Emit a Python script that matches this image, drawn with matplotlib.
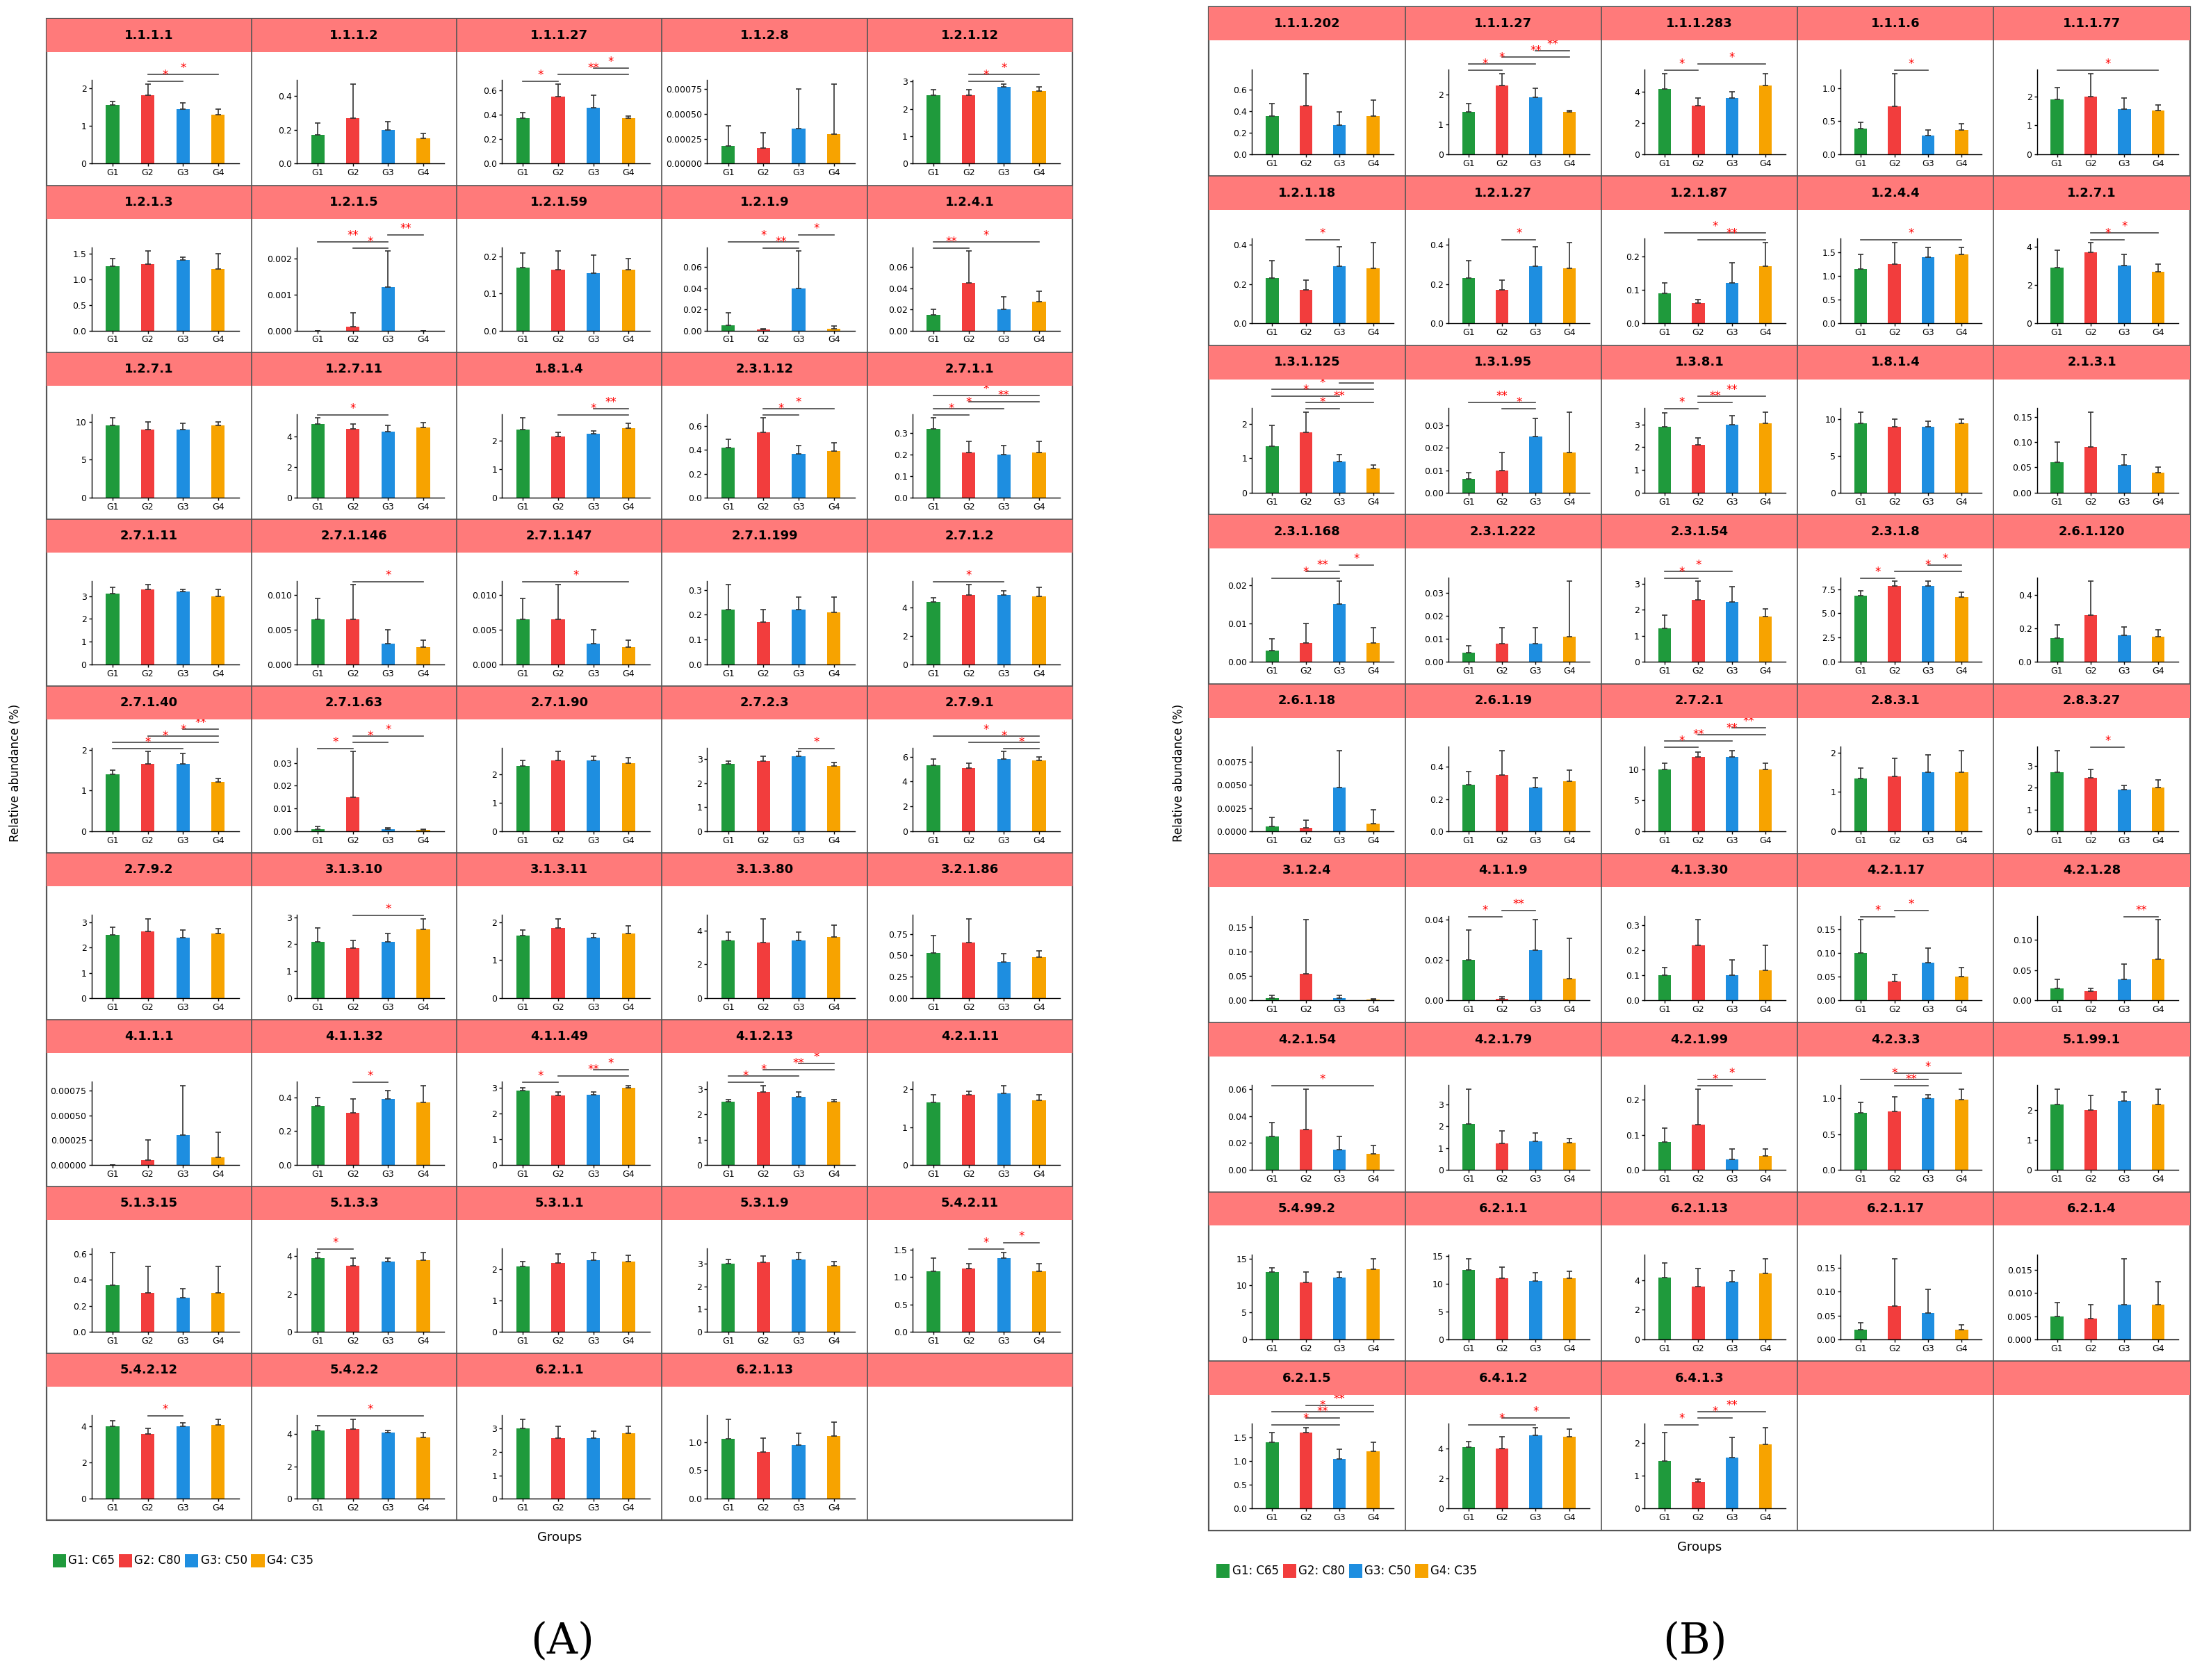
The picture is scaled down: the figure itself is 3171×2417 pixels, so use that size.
import matplotlib.pyplot as plt
from matplotlib.patches import Rectangle

groups = ['G1', 'G2', 'G3', 'G4']
colors = ['#1f9a3c', '#f23d3d', '#1e8ee0', '#f7a300']
legend_labels = ['G1: C65', 'G2: C80', 'G3: C50', 'G4: C35']

# name, means, errors, significance pairs
panel_a = [
    ('1.1.1.1', [1.55, 1.8, 1.45, 1.3], [.1, .3, .15, .15], [(1, 2, '*'), (1, 3, '*')]),
    ('1.1.1.2', [.17, .27, .2, .15], [.07, .2, .05, .03], []),
    ('1.1.1.27', [.37, .55, .46, .37], [.05, .1, .1, .02], [(0, 1, '*'), (1, 3, '**'), (2, 3, '*')]),
    ('1.1.2.8', [.00018, .00016, .00035, .0003], [.0002, .00015, .0004, .0005], []),
    ('1.2.1.12', [2.5, 2.5, 2.8, 2.65], [.2, .2, .1, .15], [(1, 2, '*'), (1, 3, '*')]),
    ('1.2.1.3', [1.25, 1.3, 1.38, 1.2], [.15, .25, .05, .3], []),
    ('1.2.1.5', [0, .0001, .0012, 0], [0, .0004, .001, 0], [(1, 2, '*'), (0, 2, '**'), (2, 3, '**')]),
    ('1.2.1.59', [.17, .165, .155, .165], [.04, .05, .05, .03], []),
    ('1.2.1.9', [.005, .001, .04, .002], [.012, .001, .035, .002], [(1, 2, '**'), (0, 2, '*'), (2, 3, '*')]),
    ('1.2.4.1', [.015, .045, .02, .027], [.005, .03, .012, .01], [(0, 1, '**'), (0, 3, '*')]),
    ('1.2.7.1', [9.5, 9, 9, 9.5], [1, 1, .8, .5], []),
    ('1.2.7.11', [4.8, 4.5, 4.3, 4.6], [.4, .3, .4, .3], [(0, 2, '*')]),
    ('1.8.1.4', [2.4, 2.15, 2.25, 2.45], [.4, .15, .1, .15], [(1, 3, '*'), (2, 3, '**')]),
    ('2.3.1.12', [.42, .55, .37, .39], [.07, .12, .07, .07], [(1, 2, '*'), (1, 3, '*')]),
    ('2.7.1.1', [.32, .21, .2, .21], [.05, .05, .04, .05], [(0, 1, '*'), (0, 2, '*'), (1, 3, '**'), (0, 3, '*')]),
    ('2.7.1.11', [3.1, 3.3, 3.2, 3.0], [.3, .2, .1, .3], []),
    ('2.7.1.146', [.0065, .0065, .003, .0025], [.003, .005, .002, .001], [(1, 3, '*')]),
    ('2.7.1.147', [.0065, .0065, .003, .0025], [.003, .005, .002, .001], [(0, 3, '*')]),
    ('2.7.1.199', [.22, .17, .22, .21], [.1, .05, .05, .06], []),
    ('2.7.1.2', [4.4, 4.9, 4.9, 4.8], [.3, .7, .3, .6], [(0, 2, '*')]),
    ('2.7.1.40', [1.4, 1.65, 1.65, 1.2], [.1, .3, .25, .1], [(0, 2, '*'), (0, 3, '*'), (1, 3, '*'), (2, 3, '**')]),
    ('2.7.1.63', [.001, .015, .001, .0005], [.001, .02, .0005, .0005], [(0, 1, '*'), (1, 2, '*'), (1, 3, '*')]),
    ('2.7.1.90', [2.3, 2.5, 2.5, 2.4], [.2, .3, .15, .2], []),
    ('2.7.2.3', [2.8, 2.9, 3.1, 2.7], [.1, .2, .2, .15], [(2, 3, '*')]),
    ('2.7.9.1', [5.3, 5.1, 5.8, 5.7], [.5, .4, .6, .3], [(2, 3, '*'), (1, 3, '*'), (0, 3, '*')]),
    ('2.7.9.2', [2.5, 2.65, 2.4, 2.55], [.3, .5, .3, .2], []),
    ('3.1.3.10', [2.1, 1.85, 2.1, 2.55], [.5, .3, .3, .4], [(1, 3, '*')]),
    ('3.1.3.11', [1.65, 1.85, 1.6, 1.7], [.15, .25, .1, .2], []),
    ('3.1.3.80', [3.4, 3.3, 3.4, 3.6], [.5, 1.4, .5, .7], []),
    ('3.2.1.86', [.53, .65, .42, .48], [.2, .28, .1, .07], []),
    ('4.1.1.1', [0, .00005, .0003, .00008], [0, .0002, .0005, .00025], []),
    ('4.1.1.32', [.35, .31, .39, .37], [.05, .08, .05, .1], [(1, 2, '*')]),
    ('4.1.1.49', [2.9, 2.7, 2.75, 3.0], [.1, .15, .1, .1], [(0, 1, '*'), (1, 3, '**'), (2, 3, '*')]),
    ('4.1.2.13', [2.5, 2.9, 2.7, 2.5], [.1, .25, .2, .1], [(0, 1, '*'), (0, 2, '*'), (1, 3, '**'), (2, 3, '*')]),
    ('4.2.1.11', [1.65, 1.85, 1.9, 1.7], [.2, .1, .2, .15], []),
    ('5.1.3.15', [.36, .3, .26, .3], [.25, .2, .07, .2], []),
    ('5.1.3.3', [3.9, 3.5, 3.7, 3.8], [.3, .4, .2, .4], [(0, 1, '*')]),
    ('5.3.1.1', [2.1, 2.2, 2.3, 2.25], [.15, .3, .25, .2], []),
    ('5.3.1.9', [3.0, 3.05, 3.2, 2.9], [.2, .3, .3, .2], []),
    ('5.4.2.11', [1.1, 1.15, 1.35, 1.1], [.25, .1, .1, .15], [(1, 2, '*'), (2, 3, '*')]),
    ('5.4.2.12', [4.0, 3.6, 4.0, 4.1], [.3, .3, .2, .3], [(1, 2, '*')]),
    ('5.4.2.2', [4.2, 4.3, 4.1, 3.8], [.3, .6, .1, .3], [(0, 3, '*')]),
    ('6.2.1.1', [3.0, 2.6, 2.6, 2.8], [.4, .5, .3, .3], []),
    ('6.2.1.13', [1.05, .82, .95, 1.1], [.35, .25, .2, .25], []),
]

panel_b = [
    ('1.1.1.202', [.35, .45, .27, .35], [.12, .3, .12, .15], []),
    ('1.1.1.27', [1.4, 2.3, 1.9, 1.4], [.3, .4, .3, .05], [(0, 1, '*'), (0, 2, '*'), (1, 3, '**'), (2, 3, '**')]),
    ('1.1.1.283', [4.2, 3.1, 3.6, 4.4], [1, .5, .4, .8], [(0, 1, '*'), (1, 3, '*')]),
    ('1.1.1.6', [.38, .72, .28, .36], [.1, .5, .08, .1], [(1, 2, '*')]),
    ('1.1.1.77', [1.9, 2.0, 1.55, 1.5], [.4, .8, .4, .2], [(0, 3, '*')]),
    ('1.2.1.18', [.23, .17, .29, .28], [.09, .05, .1, .13], [(1, 2, '*')]),
    ('1.2.1.27', [.23, .17, .29, .28], [.09, .05, .1, .13], [(1, 2, '*')]),
    ('1.2.1.87', [.09, .06, .12, .17], [.03, .01, .06, .07], [(1, 3, '**'), (0, 3, '*')]),
    ('1.2.4.4', [1.15, 1.25, 1.4, 1.45], [.3, .45, .2, .15], [(0, 3, '*')]),
    ('1.2.7.1', [2.9, 3.7, 3.0, 2.7], [.9, .5, .6, .4], [(1, 2, '*'), (1, 3, '*')]),
    ('1.3.1.125', [1.35, 1.75, .9, .7], [.6, .6, .2, .1], [(1, 2, '*'), (1, 3, '**'), (0, 2, '*'), (0, 3, '*'), (2, 3, '*')]),
    ('1.3.1.95', [.006, .01, .025, .018], [.003, .008, .008, .018], [(1, 2, '*'), (0, 2, '**')]),
    ('1.3.8.1', [2.9, 2.1, 3.0, 3.05], [.6, .3, .4, .5], [(0, 1, '*'), (1, 2, '**'), (1, 3, '**')]),
    ('1.8.1.4', [9.5, 9, 9, 9.5], [1.5, 1, .7, .5], []),
    ('2.1.3.1', [.06, .09, .055, .04], [.04, .07, .02, .01], []),
    ('2.3.1.168', [.003, .005, .015, .005], [.003, .005, .006, .004], [(0, 2, '*'), (1, 2, '**'), (2, 3, '*')]),
    ('2.3.1.222', [.004, .008, .008, .011], [.003, .007, .007, .024], []),
    ('2.3.1.54', [1.3, 2.4, 2.3, 1.75], [.5, .7, .6, .3], [(0, 1, '*'), (0, 2, '*')]),
    ('2.3.1.8', [6.8, 7.8, 7.8, 6.7], [.5, .5, .5, .5], [(0, 1, '*'), (1, 3, '*'), (2, 3, '*')]),
    ('2.6.1.120', [.14, .28, .16, .15], [.08, .2, .05, .04], []),
    ('2.6.1.18', [.0005, .0004, .0047, .0008], [.001, .0008, .004, .0015], []),
    ('2.6.1.19', [.29, .35, .27, .31], [.08, .15, .06, .07], []),
    ('2.7.2.1', [10, 12, 12, 10], [1, .8, 1, 1], [(0, 1, '*'), (0, 2, '**'), (1, 3, '**'), (2, 3, '**')]),
    ('2.8.3.1', [1.35, 1.4, 1.5, 1.5], [.25, .45, .45, .55], []),
    ('2.8.3.27', [2.7, 2.45, 1.9, 2.0], [1, .4, .2, .35], [(1, 2, '*')]),
    ('3.1.2.4', [.005, .055, .005, .002], [.005, .11, .005, .002], []),
    ('4.1.1.9', [.02, .001, .025, .011], [.015, .001, .015, .02], [(0, 1, '*'), (1, 2, '**')]),
    ('4.1.3.30', [.1, .22, .1, .12], [.03, .1, .06, .1], []),
    ('4.2.1.17', [.1, .04, .08, .05], [.07, .015, .03, .02], [(0, 1, '*'), (1, 2, '*')]),
    ('4.2.1.28', [.02, .015, .035, .068], [.015, .005, .025, .065], [(2, 3, '**')]),
    ('4.2.1.54', [.025, .03, .015, .012], [.01, .03, .01, .006], [(0, 3, '*')]),
    ('4.2.1.79', [2.1, 1.2, 1.3, 1.25], [1.6, .6, .4, .2], []),
    ('4.2.1.99', [.08, .13, .03, .04], [.04, .1, .03, .02], [(1, 2, '*'), (1, 3, '*')]),
    ('4.2.3.3', [.8, .82, 1.0, .98], [.15, .2, .05, .15], [(1, 2, '**'), (0, 2, '*'), (1, 3, '*')]),
    ('5.1.99.1', [2.2, 2.0, 2.3, 2.2], [.5, .5, .3, .5], []),
    ('5.4.99.2', [12.5, 10.5, 11.5, 13], [.8, 2, 1, 2], []),
    ('6.2.1.1', [12.5, 11, 10.5, 11], [2, 2, 1.5, 1.2], []),
    ('6.2.1.13', [4.2, 3.6, 3.9, 4.5], [1, 1.2, .8, 1], []),
    ('6.2.1.17', [.02, .07, .055, .02], [.015, .1, .05, .01], []),
    ('6.2.1.4', [.005, .0045, .0075, .0075], [.003, .003, .01, .005], []),
    ('6.2.1.5', [1.4, 1.6, 1.05, 1.2], [.2, .1, .2, .2], [(0, 2, '*'), (1, 2, '**'), (0, 3, '*'), (1, 3, '**')]),
    ('6.4.1.2', [4.1, 4.0, 4.9, 4.8], [.4, .8, .5, .5], [(0, 2, '*'), (1, 3, '*')]),
    ('6.4.1.3', [1.45, .8, 1.55, 1.95], [.85, .1, .6, .5], [(0, 1, '*'), (1, 2, '*'), (1, 3, '**')]),
]

HEADER = '#ff7a7a'


def draw_panel(fig, cells, x0, x1, y0, y1, nrows):
    ncols = 5
    cw = (x1 - x0) / ncols
    rh = (y1 - y0) / nrows
    hh = rh * 0.2
    fig.patches.append(Rectangle((x0, y0), x1 - x0, y1 - y0, transform=fig.transFigure,
                                 fill=False, edgecolor='#555555', lw=0.8))
    for r in range(nrows):
        top = y1 - r * rh
        fig.patches.append(Rectangle((x0, top - hh), x1 - x0, hh, transform=fig.transFigure,
                                     facecolor=HEADER, edgecolor='none'))
        if r > 0:
            fig.lines.append(plt.Line2D([x0, x1], [top, top], transform=fig.transFigure,
                                        color='#555555', lw=0.6))
    for c in range(1, ncols):
        xx = x0 + c * cw
        fig.lines.append(plt.Line2D([xx, xx], [y0, y1], transform=fig.transFigure,
                                    color='#555555', lw=0.6))
    for k, (name, means, errs, sig) in enumerate(cells):
        r, c = divmod(k, ncols)
        top = y1 - r * rh
        left = x0 + c * cw
        fig.text(left + cw / 2, top - hh / 2, name, ha='center', va='center',
                 fontsize=6.5, fontweight='bold')
        ax = fig.add_axes([left + cw * 0.22, top - rh + rh * 0.13, cw * 0.72, rh * 0.5])
        ax.bar(range(4), means, width=0.38, color=colors)
        ax.errorbar(range(4), means, yerr=[[0] * 4, errs], fmt='none', ecolor='#333333',
                    elinewidth=0.6, capsize=1.5, capthick=0.6)
        hi = max(m + e for m, e in zip(means, errs))
        step = hi * 0.08
        for lvl, (i, j, lab) in enumerate(sig):
            yy = hi * 1.04 + lvl * step
            ax.plot([i, j], [yy, yy], color='#444444', lw=0.6, clip_on=False)
            ax.text((i + j) / 2, yy, lab, color='red', ha='center', va='bottom',
                    fontsize=6, clip_on=False)
        ax.set_ylim(0, hi * 1.05)
        ax.set_xlim(-0.6, 3.6)
        ax.set_xticks(range(4))
        ax.set_xticklabels(groups)
        ax.tick_params(labelsize=4.5, length=1.5, width=0.5, pad=1)
        ax.yaxis.set_major_locator(plt.MaxNLocator(4, steps=[1, 2, 2.5, 5, 10]))
        for s in ['top', 'right']:
            ax.spines[s].set_visible(False)
        for s in ['left', 'bottom']:
            ax.spines[s].set_linewidth(0.5)


fig = plt.figure(figsize=(15.855, 12.085), dpi=200)
draw_panel(fig, panel_a, 0.021, 0.4866, 0.095, 0.989, 9)
draw_panel(fig, panel_b, 0.5485, 0.9936, 0.089, 0.996, 9)

for xl, xg, yg, xleg, yleg in [(0.007, 0.254, 0.085, 0.024, 0.071), (0.535, 0.771, 0.079, 0.552, 0.065)]:
    fig.text(xl, 0.54, 'Relative abundance (%)', rotation=90, ha='center', va='center', fontsize=6)
    fig.text(xg, yg, 'Groups', ha='center', va='center', fontsize=6.5)
    xx = xleg
    for col, lab in zip(colors, legend_labels):
        fig.patches.append(Rectangle((xx, yleg - 0.004), 0.006, 0.008, transform=fig.transFigure,
                                     facecolor=col, edgecolor='none'))
        fig.text(xx + 0.007, yleg, lab, ha='left', va='center', fontsize=6)
        xx += 0.03

fig.text(0.255, 0.023, '(A)', ha='center', va='center', fontsize=22, family='DejaVu Serif')
fig.text(0.769, 0.023, '(B)', ha='center', va='center', fontsize=22, family='DejaVu Serif')

fig.savefig('out.png', dpi=200, facecolor='white')
